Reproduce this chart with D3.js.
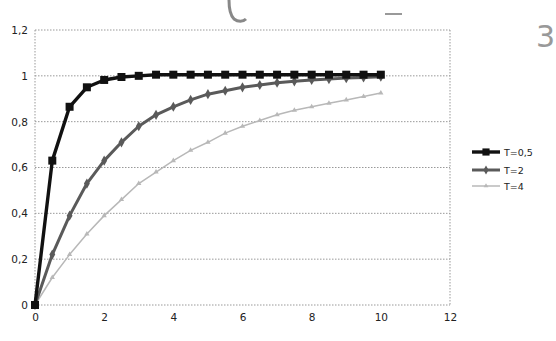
<!DOCTYPE html>
<html><head><meta charset="utf-8">
<script src="https://cdn.jsdelivr.net/npm/d3@7/dist/d3.min.js"></script>
<style>body{margin:0;background:#fff}svg{display:block}</style>
</head><body>
<svg id="c" width="556" height="341"></svg>
<script>
const tValues = [0,0.5,1,1.5,2,2.5,3,3.5,4,4.5,5,5.5,6,6.5,7,7.5,8,8.5,9,9.5,10];
const seriesNames = ["T=0,5","T=2","T=4"];
const yT05 = [0,0.63,0.865,0.95,0.982,0.995,1,1.005,1.005,1.005,1.005,1.005,1.005,1.005,1.005,1.005,1.005,1.005,1.005,1.005,1.005];
const yT2  = [0,0.22,0.39,0.53,0.63,0.71,0.78,0.83,0.865,0.895,0.92,0.935,0.95,0.96,0.97,0.976,0.982,0.986,0.99,0.993,0.996];
const yT4  = [0,0.12,0.22,0.31,0.39,0.46,0.53,0.58,0.63,0.675,0.71,0.75,0.78,0.805,0.83,0.85,0.865,0.88,0.895,0.91,0.925];
const xTicks = [0,2,4,6,8,10,12];
const yTicks = [0,0.2,0.4,0.6,0.8,1,1.2];

const svg = d3.select("#c");
const L=35, R=450, T=30, B=305;
const x = d3.scaleLinear().domain([0,12]).range([L,R]);
const y = d3.scaleLinear().domain([0,1.2]).range([B,T]);
const fmt = d => String(d).replace(".", ",");

svg.append("g").selectAll("line").data(yTicks).join("line")
  .attr("x1",L).attr("x2",R).attr("y1",d=>y(d)).attr("y2",d=>y(d))
  .attr("stroke","#999").attr("stroke-width",1).attr("stroke-dasharray","1.5,1.5");
[L,R].forEach(xx=>svg.append("line").attr("x1",xx).attr("x2",xx).attr("y1",T).attr("y2",B)
  .attr("stroke","#999").attr("stroke-dasharray","1.5,1.5"));

const xAxis = svg.append("g").attr("transform",`translate(0,${B})`)
  .call(d3.axisBottom(x).tickValues(xTicks).tickSize(0).tickPadding(9).tickFormat(fmt));
const yAxis = svg.append("g").attr("transform",`translate(${L},0)`)
  .call(d3.axisLeft(y).tickValues(yTicks).tickSize(0).tickPadding(7).tickFormat(fmt));
[xAxis,yAxis].forEach(a=>{a.select(".domain").remove();
  a.selectAll("text").attr("font-family","DejaVu Sans, sans-serif").attr("font-size",10.5).attr("fill","#222");});

const styles = [
  {vals:yT05, color:"#111", w:3.4, sym:d3.symbolSquare, size:64},
  {vals:yT2, color:"#5a5a5a", w:3, sym:d3.symbolDiamond, size:30},
  {vals:yT4, color:"#b8b8b8", w:1.5, sym:d3.symbolTriangle, size:12}
];
const line = d3.line().x(d=>x(d[0])).y(d=>y(d[1]));
[2,1,0].forEach(i=>{
  const s = styles[i];
  const pts = tValues.map((t,j)=>[t,s.vals[j]]);
  svg.append("path").datum(pts).attr("d",line).attr("fill","none")
    .attr("stroke",s.color).attr("stroke-width",s.w).attr("stroke-linejoin","round");
  svg.append("g").selectAll("path").data(pts).join("path")
    .attr("transform",d=>`translate(${x(d[0])},${y(d[1])})`)
    .attr("d",d3.symbol().type(s.sym).size(s.size)).attr("fill",s.color);
});

const legY = [152,170,186];
styles.forEach((s,i)=>{
  const g = svg.append("g").attr("transform",`translate(472,${legY[i]})`);
  g.append("line").attr("x1",0).attr("x2",28).attr("stroke",s.color).attr("stroke-width",s.w);
  g.append("path").attr("transform","translate(14,0)").attr("d",d3.symbol().type(s.sym).size(s.size*0.8)).attr("fill",s.color);
  g.append("text").attr("x",32).attr("y",3.5).text(seriesNames[i])
    .attr("font-family","DejaVu Sans, sans-serif").attr("font-size",9.5).attr("fill","#222");
});

svg.append("text").attr("x",536).attr("y",47).text("3")
  .attr("font-family","DejaVu Sans, sans-serif").attr("font-size",30).attr("fill","#999");
svg.append("line").attr("x1",385).attr("x2",402).attr("y1",14).attr("y2",14).attr("stroke","#777").attr("stroke-width",1.5);
svg.append("path").attr("d","M229,0 C229,8 230,15 234,19 C238,22 243,22 246,19")
  .attr("fill","none").attr("stroke","#888").attr("stroke-width",3);
</script>
</body></html>
